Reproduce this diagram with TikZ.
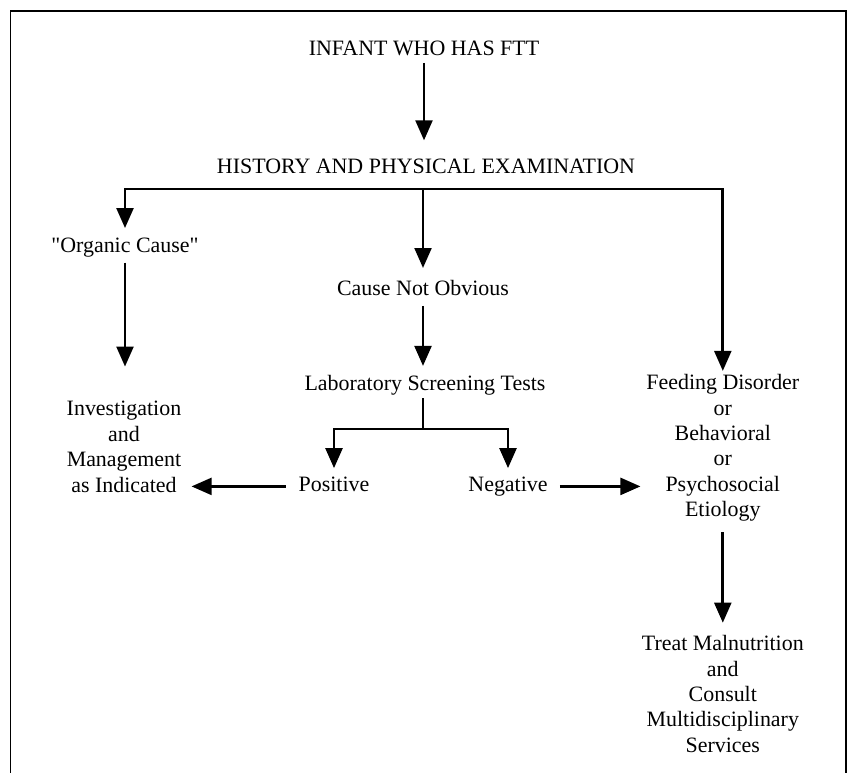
\documentclass[tikz,border=0pt]{standalone}
\usepackage{fontspec}
\setmainfont{Liberation Serif}
\newfontfamily\rawserif{Liberation Serif}
\usetikzlibrary{arrows.meta,calc}

\begin{document}
\begin{tikzpicture}[
    txt/.style={font=\fontsize{15.6}{18.1}\selectfont, align=center, inner sep=0pt},
    oneline/.style={txt, text height=0.376cm, text depth=0.121cm},
    flow/.style={line width=2pt, -{Triangle[length=5mm,width=4.2mm]}, shorten <=1.8mm, shorten >=2.5mm},
    bar/.style={line width=2pt}
  ]
    \useasboundingbox (0,0) rectangle (21.2,-19.325);
    \draw[line width=1.4pt] (0.2625,-19.325) -- (0.2625,-0.275) -- (21.16,-0.275) -- (21.16,-19.325);

    \node[txt] (infant)  at (10.6,-1.2)    {INFANT WHO HAS FTT};
    \node[txt] (hist)    at (10.65,-4.15)  {HISTORY AND PHYSICAL EXAMINATION};
    \node[txt] (organic) at (3.125,-6.2)   {{\rawserif"}Organic Cause{\rawserif"}};
    \node[txt] (notobv)  at (10.575,-7.2)  {Cause Not Obvious};
    \node[txt] (lab)     at (10.625,-9.625){Laboratory Screening Tests};
    \node[txt] (invest)  at (3.1,-11.17)   {Investigation\\and\\Management\\as Indicated};
    \node[oneline] (pos) at (8.35,-12.16)  {Positive};
    \node[oneline] (neg) at (12.7,-12.16)  {Negative};
    \node[txt] (feed)    at (18.07,-11.2)  {Feeding Disorder\\or\\Behavioral\\or\\Psychosocial\\Etiology};
    \node[txt] (treat)   at (18.07,-17.35) {Treat Malnutrition\\and\\Consult\\Multidisciplinary\\Services};

    \coordinate (split) at (10.575,-4.725);
    \coordinate (fork)  at (10.575,-10.725);

    \draw[flow, shorten <=1.8mm, shorten >=4.5mm] (infant) -- (infant |- hist.north);
    \draw[flow, shorten <=0pt, shorten >=2.5mm] (split) -| (organic);
    \draw[flow, shorten <=0pt, shorten >=3mm] (split) -- (notobv);
    \draw[flow, shorten <=0pt, shorten >=0.8mm] (split) -| (feed);
    \draw[flow, shorten <=1.2mm, shorten >=8.6mm] (organic) -- (organic |- invest.north);
    \draw[flow, shorten <=2.5mm, shorten >=2.2mm] (notobv) -- (notobv |- lab.north);
    \draw[bar, shorten <=0.8mm] (lab.south -| fork) -- (fork);
    \draw[flow, shorten <=0pt, shorten >=2mm] (fork) -| (pos);
    \draw[flow, shorten <=0pt, shorten >=2mm] (fork) -| (neg);
    \draw[flow, shorten <=3.2mm, shorten >=2.5mm] (pos.west) -- (pos.west -| invest.east);
    \draw[flow, shorten <=3mm, shorten >=1.4mm] (neg.east) -- (neg.east -| feed.west);
    \draw[flow, shorten <=2.6mm, shorten >=3.1mm] (feed) -- (treat);
\end{tikzpicture}
\end{document}
